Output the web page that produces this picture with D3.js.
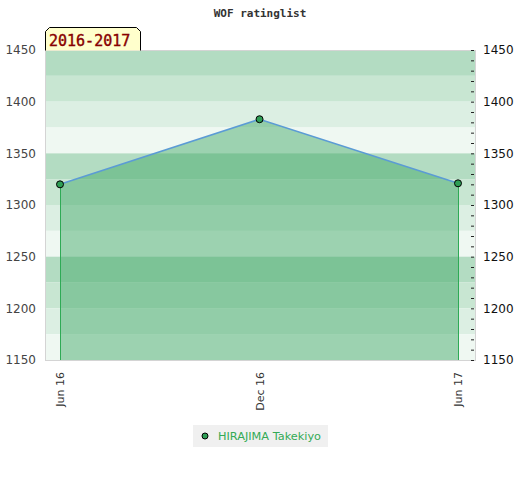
<!DOCTYPE html>
<html>
<head>
<meta charset="utf-8">
<script src="https://cdn.jsdelivr.net/npm/d3@7"></script>
<style>
  body { margin: 0; background: #fff; }
  svg { display: block; }
</style>
</head>
<body>
<div id="chart"></div>
<script>
// data
var dates = ["2016-06-01", "2016-12-01", "2017-06-01"]
var ratings = [1320, 1383, 1321]
var tickDates = ["2016-06-01", "2016-12-01", "2017-06-01"]
var yTicks = [1150, 1200, 1250, 1300, 1350, 1400, 1450]
var bandColors = ["#b3dcc2", "#c8e6d2", "#dcefe3", "#eff8f2"]
var player = "HIRAJIMA Takekiyo"
var period = "2016-2017"

var W = 520, H = 480
var plotLeft = 45, plotRight = 475, plotTop = 50, plotBottom = 360

var parse = d3.timeParse("%Y-%m-%d")
var data = dates.map(function(d, i) { return {date: parse(d), value: ratings[i]} })

var svg = d3.select("#chart").append("svg")
  .attr("width", W)
  .attr("height", H)

var x = d3.scaleTime()
  .domain([parse(dates[0]), parse(dates[dates.length - 1])])
  .range([60, 458])

var y = d3.scaleLinear()
  .domain([1150, 1450])
  .range([plotBottom, plotTop])

// background bands, 25 points each
var bands = d3.range(1450, 1150, -25)
svg.append("g")
  .selectAll("rect")
  .data(bands)
  .enter()
  .append("rect")
    .attr("x", plotLeft)
    .attr("width", plotRight - plotLeft)
    .attr("y", function(d) { return y(d) })
    .attr("height", function(d) { return y(d - 25) - y(d) })
    .attr("fill", function(d, i) { return bandColors[i % 4] })

// plot frame
svg.append("rect")
  .attr("x", plotLeft + 0.5)
  .attr("y", plotTop + 0.5)
  .attr("width", plotRight - plotLeft)
  .attr("height", plotBottom - plotTop)
  .attr("fill", "none")
  .attr("stroke", "#d4d4d4")

// area under the rating line
var area = d3.area()
  .x(function(d) { return x(d.date) })
  .y0(plotBottom)
  .y1(function(d) { return y(d.value) })

svg.append("path")
  .datum(data)
  .attr("d", area)
  .attr("fill", "rgba(59,166,97,0.46)")

// green edges at both ends
svg.append("g")
  .selectAll("line")
  .data([data[0], data[data.length - 1]])
  .enter()
  .append("line")
    .attr("x1", function(d) { return x(d.date) + 0.5 })
    .attr("x2", function(d) { return x(d.date) + 0.5 })
    .attr("y1", function(d) { return y(d.value) })
    .attr("y2", plotBottom)
    .attr("stroke", "#2eaa55")
    .attr("stroke-width", 1)

var line = d3.line()
  .x(function(d) { return x(d.date) })
  .y(function(d) { return y(d.value) })

svg.append("path")
  .datum(data)
  .attr("d", line)
  .attr("fill", "none")
  .attr("stroke", "#5b9bd5")
  .attr("stroke-width", 1.5)

svg.append("g")
  .selectAll("circle")
  .data(data)
  .enter()
  .append("circle")
    .attr("cx", function(d) { return x(d.date) })
    .attr("cy", function(d) { return y(d.value) })
    .attr("r", 3.5)
    .attr("fill", "#2e9e55")
    .attr("stroke", "#000")
    .attr("stroke-width", 1)

// left axis labels
var yLeft = d3.axisLeft(y).tickValues(yTicks).tickSize(0).tickPadding(9).tickFormat(d3.format("d"))
svg.append("g")
  .attr("transform", "translate(" + plotLeft + ",0)")
  .call(yLeft)
  .call(function(g) { g.select(".domain").remove() })
  .selectAll("text")
    .attr("font-family", "DejaVu Sans")
    .attr("font-size", 12)
    .attr("fill", "#444")

// right axis: minor ticks every 10 inside the frame
var yRight = d3.axisRight(y).ticks(30).tickSize(3).tickFormat("")
svg.append("g")
  .attr("transform", "translate(" + (plotRight - 4) + ",0)")
  .call(yRight)
  .call(function(g) { g.select(".domain").remove() })
  .selectAll("line")
    .attr("stroke", "#222")

svg.append("g")
  .attr("transform", "translate(" + plotRight + ",0)")
  .call(d3.axisRight(y).tickValues(yTicks).tickSize(0).tickPadding(8).tickFormat(d3.format("d")))
  .call(function(g) { g.select(".domain").remove() })
  .selectAll("text")
    .attr("font-family", "DejaVu Sans")
    .attr("font-size", 12)
    .attr("fill", "#111")

// x axis, rotated labels
var xAxis = d3.axisBottom(x)
  .tickValues(tickDates.map(parse))
  .tickSize(0)
  .tickFormat(d3.timeFormat("%b %y"))
svg.append("g")
  .attr("transform", "translate(0," + plotBottom + ")")
  .call(xAxis)
  .call(function(g) { g.select(".domain").remove() })
  .selectAll("text")
    .attr("font-family", "DejaVu Sans")
    .attr("font-size", 11)
    .attr("fill", "#333")
    .attr("transform", "rotate(-90)")
    .attr("x", -12)
    .attr("y", 0)
    .attr("dy", "0.35em")
    .style("text-anchor", "end")

// title
svg.append("text")
  .attr("x", 260)
  .attr("y", 17)
  .attr("text-anchor", "middle")
  .attr("font-family", "DejaVu Sans Mono")
  .attr("font-weight", "bold")
  .attr("font-size", 11)
  .attr("fill", "#333")
  .text("WOF ratinglist")

// period label box with cut corners
svg.append("path")
  .attr("d", "M45.5,50.5 L45.5,31.5 L49.5,27.5 L136.5,27.5 L140.5,31.5 L140.5,50.5")
  .attr("fill", "#ffffcc")
  .attr("stroke", "#000")
svg.append("text")
  .attr("x", 49)
  .attr("y", 46)
  .attr("font-family", "DejaVu Sans Mono")
  .attr("font-size", 15)
  .attr("fill", "#880000")
  .attr("stroke", "#880000")
  .attr("stroke-width", 0.4)
  .text(period)

// legend
var legend = svg.append("g").attr("transform", "translate(193,425)")
legend.append("rect")
  .attr("width", 135)
  .attr("height", 22)
  .attr("fill", "#f0f0f0")
legend.append("circle")
  .attr("cx", 12)
  .attr("cy", 11)
  .attr("r", 3)
  .attr("fill", "#2e9e55")
  .attr("stroke", "#000")
legend.append("text")
  .attr("x", 25)
  .attr("y", 15)
  .attr("font-family", "DejaVu Sans")
  .attr("font-size", 11.3)
  .attr("fill", "#33aa55")
  .text(player)
</script>
</body>
</html>
